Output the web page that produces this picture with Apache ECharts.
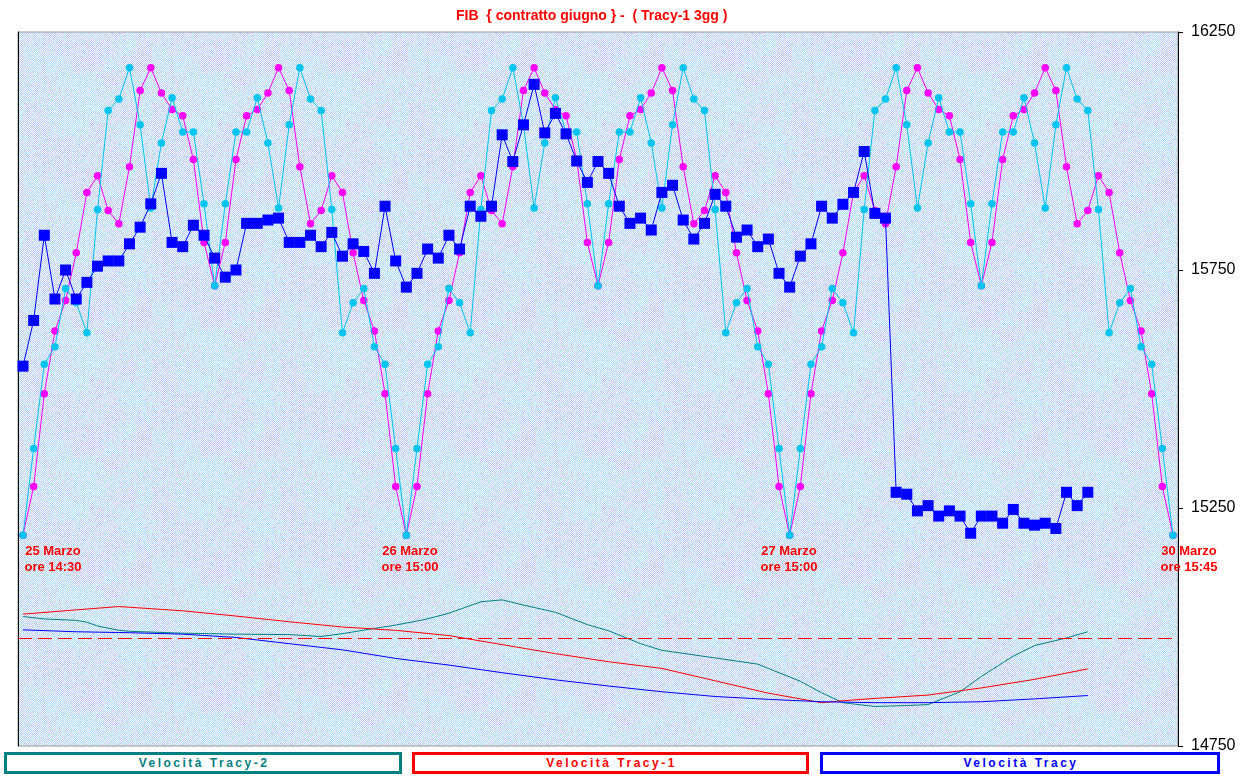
<!DOCTYPE html>
<html>
<head>
<meta charset="utf-8">
<script src="https://cdn.jsdelivr.net/npm/echarts@6/dist/echarts.min.js"></script>
<style>
html,body{margin:0;padding:0;background:#fff;}
#wrap{position:relative;width:1248px;height:778px;overflow:hidden;}
#chart{position:absolute;left:0;top:0;width:1248px;height:778px;}
.lg{position:absolute;top:752px;height:16px;border:3px solid;background:#fff;
  font:bold 12px 'Liberation Sans',Arial,sans-serif;letter-spacing:2.5px;padding-left:2.5px;
  text-align:center;line-height:16px;white-space:nowrap;}
</style>
</head>
<body>
<div id="wrap">
  <div id="chart"></div>
  <div class="lg" id="lg0" style="left:4px;width:389px;border-color:#008080;color:#008080;"></div>
  <div class="lg" id="lg1" style="left:412px;width:388px;border-color:#ff0000;color:#ff0000;"></div>
  <div class="lg" id="lg2" style="left:820px;width:391px;border-color:#0000ff;color:#0000ff;"></div>
</div>
<script>
// ---------------- DATA ----------------
const titleText = 'FIB  { contratto giugno } -  ( Tracy-1 3gg )';
const legendNames = ['Velocità Tracy-2', 'Velocità Tracy-1', 'Velocità Tracy'];
const dayLabels = ['25 Marzo', '26 Marzo', '27 Marzo', '30 Marzo'];
const timeLabels = ['ore 14:30', 'ore 15:00', 'ore 15:00', 'ore 15:45'];
const yTickLabels = [14750, 15250, 15750, 16250];

// Tracy-1 (magenta), one value per bar index 0..108
const tracy1 = [
  15193,15295,15490,15622,15686,15786,15913,15948,15875,15847,15967,16127,16175,16122,16087,16074,15982,15808,15717,15808,15982,16074,16087,16122,16175,16127,15967,15847,15875,15948,15913,15786,15686,15622,15490,15295,15193,
  15295,15490,15622,15686,15786,15913,15948,15875,15847,15967,16127,16175,16122,16087,16074,15982,15808,15717,15808,15982,16074,16087,16122,16175,16127,15967,15847,15875,15948,15913,15786,15686,15622,15490,15295,15193,
  15295,15490,15622,15686,15786,15913,15948,15875,15847,15967,16127,16175,16122,16087,16074,15982,15808,15717,15808,15982,16074,16087,16122,16175,16127,15967,15847,15875,15948,15913,15786,15686,15622,15490,15295,15193
];
// Tracy-2 (cyan)
const tracy2 = [
  15193,15375,15552,15589,15711,15681,15618,15877,16085,16109,16175,16055,15880,16017,16112,16040,16040,15889,15717,15889,16040,16040,16112,16017,15880,16055,16175,16109,16085,15877,15618,15681,15711,15589,15552,15375,15193,
  15375,15552,15589,15711,15681,15618,15877,16085,16109,16175,16055,15880,16017,16112,16040,16040,15889,15717,15889,16040,16040,16112,16017,15880,16055,16175,16109,16085,15877,15618,15681,15711,15589,15552,15375,15193,
  15375,15552,15589,15711,15681,15618,15877,16085,16109,16175,16055,15880,16017,16112,16040,16040,15889,15717,15889,16040,16040,16112,16017,15880,16055,16175,16109,16085,15877,15618,15681,15711,15589,15552,15375,15193
];
// Tracy (blue squares), index 0..100
const tracy = [
  15548,15644,15823,15689,15750,15689,15724,15758,15769,15769,
  15805,15840,15889,15953,15808,15799,15844,15823,15775,15735,
  15750,15848,15848,15855,15859,15808,15808,15823,15799,15829,
  15779,15805,15789,15743,15884,15769,15714,15743,15794,15775,
  15823,15794,15884,15863,15884,16034,15978,16055,16140,16038,
  16079,16036,15979,15934,15978,15953,15884,15848,15859,15834,
  15913,15928,15855,15815,15848,15909,15884,15819,15834,15799,
  15815,15743,15714,15779,15805,15884,15859,15888,15913,15999,
  15869,15859,15283,15279,15244,15255,15233,15244,15233,15197,
  15233,15233,15218,15247,15218,15214,15218,15207,15283,15255,15283
];
// Velocity lines: [bar index, value]
const velTracy2 = [[0,15022],[2,15017],[5,15014],[6,15010],[7,15002],[9,14993],[10,14991],[15,14987],[20,14985],[25,14984],[28,14980],[30,14986],[33,14997],[35,15004],[38,15017],[40,15029],[43,15053],[45,15057],[47,15046],[50,15031],[53,15005],[55,14992],[58,14965],[60,14951],[65,14935],[69,14922],[70,14913],[73,14886],[75,14862],[77,14841],[80,14833],[83,14835],[85,14837],[88,14864],[90,14896],[93,14939],[95,14961],[98,14977],[100,14990]];
const velTracy1 = [[0,15027],[5,15036],[9,15043],[15,15034],[20,15023],[25,15011],[30,15000],[35,14993],[40,14982],[45,14963],[50,14944],[55,14927],[60,14913],[65,14887],[70,14861],[73,14849],[75,14841],[77,14845],[80,14850],[85,14857],[90,14872],[95,14890],[100,14912]];
const velTracy = [[0,14994],[5,14990],[10,14988],[15,14985],[20,14978],[25,14965],[30,14952],[35,14934],[40,14920],[45,14904],[50,14889],[55,14876],[60,14864],[65,14854],[70,14848],[75,14843],[80,14841],[85,14841],[90,14843],[95,14849],[100,14856]];
const zeroLevel = 14976;

// ---------------- TEXTURE (background only) ----------------
function makeTexture() {
  const W = 128, H = 128, CELL = 16, N = W / CELL;
  const c = document.createElement('canvas'); c.width = W; c.height = H;
  const ctx = c.getContext('2d');
  const img = ctx.createImageData(W, H);
  let s = 424242;
  const rnd = () => { s = (s * 1103515245 + 12345) & 0x7fffffff; return s / 0x7fffffff; };
  const grid = [];
  for (let j = 0; j < N; j++) { grid.push([]); for (let i = 0; i < N; i++) grid[j].push(rnd()); }
  const sm = t => t * t * (3 - 2 * t);
  const noise = (x, y) => {
    const gx = x / CELL, gy = y / CELL;
    const i0 = Math.floor(gx), j0 = Math.floor(gy);
    const fx = sm(gx - i0), fy = sm(gy - j0);
    const a = grid[j0 % N][i0 % N], b = grid[j0 % N][(i0 + 1) % N];
    const c2 = grid[(j0 + 1) % N][i0 % N], d = grid[(j0 + 1) % N][(i0 + 1) % N];
    return (a * (1 - fx) + b * fx) * (1 - fy) + (c2 * (1 - fx) + d * fx) * fy;
  };
  for (let y = 0; y < H; y++) for (let x = 0; x < W; x++) {
    let r, g, b;
    const n = noise(x, y);
    if ((x + y) % 2 === 0) {
      if (rnd() < 0.12) { r = 214; g = 232; b = 246; } else { r = 250; g = 252; b = 255; }
    } else {
      const p = Math.min(1, Math.max(0, n * 1.1 - 0.1));
      if (rnd() < p) { r = 172; g = 220; b = 244; }
      else { r = 192; g = 198; b = 238; }
    }
    const k = (y * W + x) * 4;
    img.data[k] = r; img.data[k + 1] = g; img.data[k + 2] = b; img.data[k + 3] = 255;
  }
  ctx.putImageData(img, 0, 0);
  return c;
}

// ---------------- CHART ----------------
document.getElementById('lg0').textContent = legendNames[0];
document.getElementById('lg1').textContent = legendNames[1];
document.getElementById('lg2').textContent = legendNames[2];

const chart = echarts.init(document.getElementById('chart'), null, { renderer: 'canvas' });
const FONT = "'Liberation Sans', Arial, sans-serif";
const idx = arr => arr.map((v, i) => [i, v]);
const labelX = [53, 410, 789, 1189];

const option = {
  animation: false,
  title: {
    text: titleText, left: 456, top: 9, padding: 0,
    textStyle: { color: '#ff0000', fontSize: 14, fontWeight: 'bold', fontFamily: FONT }
  },
  grid: {
    left: 18, right: 70, top: 32, bottom: 32, show: true,
    borderColor: '#999999', borderWidth: 1,
    backgroundColor: { image: makeTexture(), repeat: 'repeat' }
  },
  xAxis: { type: 'value', min: -0.47, max: 108.47, show: false },
  yAxis: [
    {
      type: 'value', position: 'right', min: yTickLabels[0], max: yTickLabels[yTickLabels.length - 1], interval: 500,
      axisLine: { show: true, onZero: false, lineStyle: { color: '#000', width: 1 } },
      axisTick: { show: true, inside: false, length: 5, lineStyle: { color: '#000' } },
      axisLabel: { show: true, color: '#000', fontSize: 16, fontFamily: FONT, margin: 13, formatter: v => String(v) },
      splitLine: { show: false }
    },
    {
      type: 'value', position: 'left', min: yTickLabels[0], max: yTickLabels[yTickLabels.length - 1], interval: 500,
      axisLine: { show: true, onZero: false, lineStyle: { color: '#000', width: 1 } },
      axisTick: { show: false }, axisLabel: { show: false }, splitLine: { show: false }
    }
  ],
  graphic: dayLabels.map((d, k) => ({
    type: 'text', x: labelX[k], y: 543, z: 100,
    style: {
      text: d + '\n' + timeLabels[k], textAlign: 'center', textVerticalAlign: 'top',
      fill: '#ff0000', font: 'bold 13px ' + FONT, lineHeight: 16
    }
  })),
  series: [
    {
      name: legendNames[0], type: 'line', data: velTracy2, symbol: 'none',
      lineStyle: { color: '#008080', width: 1 }, itemStyle: { color: '#008080' }, z: 2,
      markLine: {
        silent: true, symbol: 'none', label: { show: false },
        lineStyle: { color: '#ff0000', type: [14, 6], width: 1 },
        data: [{ yAxis: zeroLevel }]
      }
    },
    {
      name: legendNames[1], type: 'line', data: velTracy1, symbol: 'none',
      lineStyle: { color: '#ff0000', width: 1 }, itemStyle: { color: '#ff0000' }, z: 2
    },
    {
      name: legendNames[2], type: 'line', data: velTracy, symbol: 'none',
      lineStyle: { color: '#0000ff', width: 1 }, itemStyle: { color: '#0000ff' }, z: 2
    },
    {
      name: 'Tracy-1', type: 'line', data: idx(tracy1), symbol: 'circle', symbolSize: 7.5, showAllSymbol: true,
      lineStyle: { color: '#ff00ff', width: 1 }, itemStyle: { color: '#ff00ff' }, z: 3
    },
    {
      name: 'Tracy-2', type: 'line', data: idx(tracy2), symbol: 'circle', symbolSize: 7.5, showAllSymbol: true,
      lineStyle: { color: '#00c4f0', width: 1 }, itemStyle: { color: '#00c4f0' }, z: 4
    },
    {
      name: 'Tracy', type: 'line', data: idx(tracy), symbol: 'rect', symbolSize: 11, showAllSymbol: true,
      lineStyle: { color: '#0000ff', width: 1 }, itemStyle: { color: '#0000ff' }, z: 5
    }
  ]
};
chart.setOption(option);
</script>
</body>
</html>
